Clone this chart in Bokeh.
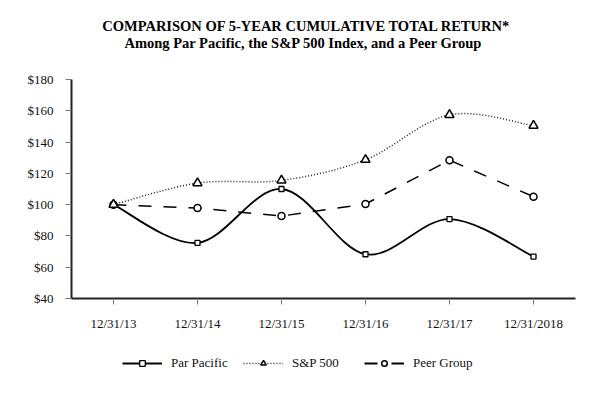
from bokeh.plotting import figure
from bokeh.layouts import column
from bokeh.models import Range1d, FixedTicker, Legend, LegendItem, Label, ColumnDataSource
from bokeh.embed import file_html
from bokeh.resources import INLINE

dates = ["12/31/13", "12/31/14", "12/31/15", "12/31/16", "12/31/17", "12/31/2018"]
par_pacific = [100, 75.5, 110, 68.3, 90.8, 66.8]
sp500 = [100, 113.8, 115.5, 128.7, 157.4, 150.5]
peer_group = [100, 97.8, 92.7, 100.4, 128.4, 105.1]
y_ticks = [40, 60, 80, 100, 120, 140, 160, 180]
y_tick_labels = ["$40", "$60", "$80", "$100", "$120", "$140", "$160", "$180"]
series_names = ["Par Pacific", "S&P 500", "Peer Group"]
title_lines = ["COMPARISON OF 5-YEAR CUMULATIVE TOTAL RETURN*",
               "Among Par Pacific, the S&P 500 Index, and a Peer Group"]

FONT = "Liberation Serif"
xs = list(range(len(dates)))


def smooth_segments(x, y):
    n = len(x)
    d = dict(x0=[], y0=[], x1=[], y1=[], cx0=[], cy0=[], cx1=[], cy1=[])
    for i in range(n - 1):
        xm, ym = (x[i - 1], y[i - 1]) if i > 0 else (x[i], y[i])
        xp, yp = (x[i + 2], y[i + 2]) if i + 2 < n else (x[i + 1], y[i + 1])
        d["x0"].append(x[i]); d["y0"].append(y[i])
        d["x1"].append(x[i + 1]); d["y1"].append(y[i + 1])
        d["cx0"].append(x[i] + (x[i + 1] - xm) / 6.0)
        d["cy0"].append(y[i] + (y[i + 1] - ym) / 6.0)
        d["cx1"].append(x[i + 1] - (xp - x[i]) / 6.0)
        d["cy1"].append(y[i + 1] - (yp - y[i]) / 6.0)
    return ColumnDataSource(d)


def strip(height):
    f = figure(width=592, height=height, output_backend="svg", toolbar_location=None,
               x_range=Range1d(0, 1), y_range=Range1d(0, 1), min_border=0,
               x_axis_type=None, y_axis_type=None)
    f.title = None
    f.outline_line_color = None
    f.grid.visible = False
    return f


# ---------- header with the two title lines ----------
hd = strip(71)
hd.add_layout(Label(x=235, y=46, x_units="screen", y_units="screen", text=title_lines[0],
                    text_align="center", text_baseline="middle", text_font=FONT,
                    text_font_size="14.5px", text_font_style="bold", text_color="black"))
hd.add_layout(Label(x=232, y=29, x_units="screen", y_units="screen", text=title_lines[1],
                    text_align="center", text_baseline="middle", text_font=FONT,
                    text_font_size="14.5px", text_font_style="bold", text_color="black"))

# ---------- main chart ----------
p = figure(width=592, height=273, output_backend="svg", toolbar_location=None,
           x_range=Range1d(-0.5, 5.5), y_range=Range1d(40, 180),
           min_border_left=71, min_border_right=17, min_border_top=8, min_border_bottom=46)
p.title = None
p.outline_line_color = None
p.grid.visible = False

p.xaxis.ticker = FixedTicker(ticks=xs)
p.xaxis.major_label_overrides = {i: d for i, d in enumerate(dates)}
p.yaxis.ticker = FixedTicker(ticks=y_ticks)
p.yaxis.major_label_overrides = {t: l for t, l in zip(y_ticks, y_tick_labels)}
for ax in (p.xaxis, p.yaxis):
    ax.axis_line_color = "#222222"
    ax.axis_line_width = 2
    ax.major_tick_in = 0
    ax.major_tick_out = 6
    ax.major_tick_line_color = "#777777"
    ax.major_tick_line_width = 1
    ax.minor_tick_line_color = None
    ax.major_label_text_font = FONT
    ax.major_label_text_font_size = "13px"
    ax.major_label_text_color = "#111111"
p.yaxis.major_label_standoff = 12
p.xaxis.major_label_standoff = 11

p.bezier(x0="x0", y0="y0", x1="x1", y1="y1", cx0="cx0", cy0="cy0", cx1="cx1", cy1="cy1",
         source=smooth_segments(xs, par_pacific), line_color="black", line_width=1.8)
p.bezier(x0="x0", y0="y0", x1="x1", y1="y1", cx0="cx0", cy0="cy0", cx1="cx1", cy1="cy1",
         source=smooth_segments(xs, sp500), line_color="#222222", line_width=1.5, line_dash="1 2")
p.line(xs, peer_group, line_color="black", line_width=1.5, line_dash="13 12")

p.scatter(xs, par_pacific, marker="square", size=5, fill_color="white",
          line_color="black", line_width=1.3)
p.scatter(xs, peer_group, marker="circle", size=7, fill_color="white",
          line_color="black", line_width=1.5)
p.scatter(xs, sp500, marker="triangle", size=9, fill_color="white",
          line_color="black", line_width=1.5)

# ---------- legend strip (series drawn off-view, only their legend glyphs show) ----------
lg = strip(40)
r_par = [lg.line(xs, par_pacific, line_color="black", line_width=1.8),
         lg.scatter(xs, par_pacific, marker="square", fill_color="white",
                    line_color="black", line_width=1.3)]
r_sp = [lg.line(xs, sp500, line_color="#222222", line_width=1.5, line_dash="1 2"),
        lg.scatter(xs, sp500, marker="triangle", fill_color="white",
                   line_color="black", line_width=1.5)]
r_peer = [lg.line(xs, peer_group, line_color="black", line_width=1.8, line_dash="13 14"),
          lg.scatter(xs, peer_group, marker="circle", fill_color="white",
                     line_color="black", line_width=1.5)]
legend = Legend(items=[
    LegendItem(label=series_names[0], renderers=r_par),
    LegendItem(label=series_names[1], renderers=r_sp),
    LegendItem(label=series_names[2], renderers=r_peer),
], orientation="horizontal", location=(51, 13), glyph_width=40, glyph_height=14,
    label_height=14, label_standoff=9, label_width=60, spacing=12, padding=0, margin=0,
    border_line_color=None, background_fill_alpha=0,
    label_text_font=FONT, label_text_font_size="13px", label_text_color="#111111")
lg.add_layout(legend, "center")

layout = column(hd, p, lg, spacing=0)
open("out.html", "w").write(file_html(layout, INLINE))
